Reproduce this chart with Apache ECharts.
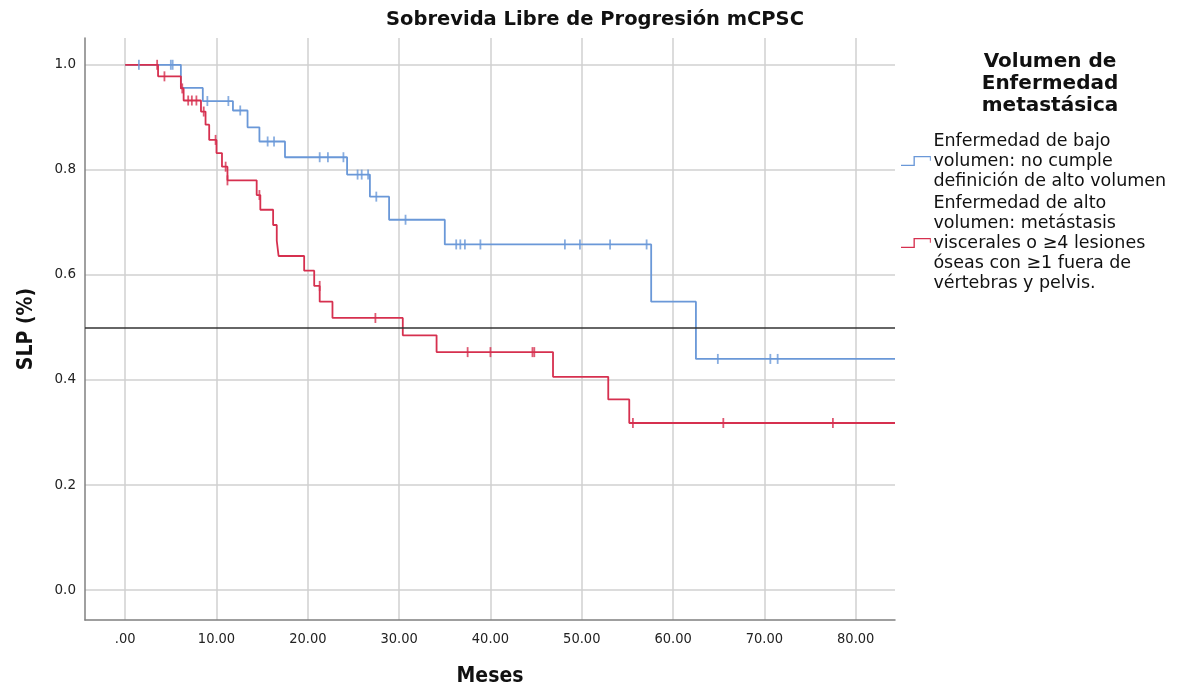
<!DOCTYPE html>
<html>
<head>
<meta charset="utf-8">
<script src="https://cdn.jsdelivr.net/npm/echarts@6/dist/echarts.min.js"></script>
<style>html,body{margin:0;padding:0;background:#fff;}#c{width:1182px;height:687px;}</style>
</head>
<body>
<div id="c"></div>
<script>
// ---- data ----
const xTicks = [0, 10, 20, 30, 40, 50, 60, 70, 80];
const yTicks = [0, 0.2, 0.4, 0.6, 0.8, 1.0];
const seriesNames = [
  'Enfermedad de bajo\nvolumen: no cumple\ndefinición de alto volumen',
  'Enfermedad de alto\nvolumen: metástasis\nviscerales o \u22654 lesiones\nóseas con \u22651 fuera de\nvértebras y pelvis.'
];
// low volume (blue) step curve
const blueTimes = [0, 6.1, 8.5, 11.8, 13.4, 14.7, 17.5, 24.3, 26.8, 28.9, 35.0, 57.6, 62.5, 84.3];
const blueSurv  = [1.0, 0.956, 0.931, 0.913, 0.881, 0.854, 0.824, 0.791, 0.749, 0.705, 0.658, 0.549, 0.44, 0.44];
const blueCensT = [1.5, 5.0, 5.2, 9.0, 11.3, 12.6, 15.6, 16.3, 21.3, 22.2, 23.9, 25.45, 25.9, 26.6, 27.5, 30.7, 36.25, 36.7, 37.2, 38.9, 48.15, 49.8, 53.1, 57.1, 64.9, 70.65, 71.45];
const blueCensS = [1.0, 1.0, 1.0, 0.931, 0.931, 0.913, 0.854, 0.854, 0.824, 0.824, 0.824, 0.791, 0.791, 0.791, 0.749, 0.705, 0.658, 0.658, 0.658, 0.658, 0.658, 0.658, 0.658, 0.658, 0.44, 0.44, 0.44];
// high volume (red) step curve
const redTimes = [0, 3.6, 6.1, 6.4, 8.3, 8.8, 9.2, 10.0, 10.6, 11.2, 14.4, 14.8, 16.2, 16.6, 16.8, 19.6, 20.7, 21.3, 22.7, 30.4, 34.1, 46.85, 52.9, 55.2, 84.3];
const redSurv  = [1.0, 0.978, 0.955, 0.932, 0.911, 0.886, 0.857, 0.832, 0.806, 0.78, 0.752, 0.724, 0.695, 0.665, 0.636, 0.608, 0.579, 0.549, 0.518, 0.485, 0.453, 0.406, 0.363, 0.318, 0.318];
const redCensT = [3.5, 4.3, 6.25, 6.9, 7.3, 7.8, 8.6, 9.9, 11.0, 11.2, 14.7, 21.3, 27.4, 37.5, 40.0, 44.6, 44.8, 55.6, 65.5, 77.5];
const redCensS = [1.0, 0.978, 0.955, 0.932, 0.932, 0.932, 0.911, 0.857, 0.806, 0.78, 0.752, 0.579, 0.518, 0.453, 0.453, 0.453, 0.453, 0.318, 0.318, 0.318];
const refLine = 0.5;

const BLUE = '#6a98d8';
const RED = '#d6304f';
const NARROW = "'DejaVu Sans Condensed', 'Liberation Sans', 'DejaVu Sans', sans-serif";
const zip = (a, b) => a.map((v, i) => [v, b[i]]);
const stepIcon = 'path://M0,9 L13,9 L13,0 L31,0 L31,5 L30,5 L30,1.4 L14.4,1.4 L14.4,10.4 L0,10.4 Z';

const chart = echarts.init(document.getElementById('c'));
chart.setOption({
  animation: false,
  backgroundColor: '#fff',
  title: [
    { text: 'Sobrevida Libre de Progresión mCPSC', left: 590, top: 5, textAlign: 'center',
      textStyle: { fontFamily: 'DejaVu Sans', fontWeight: 'bold', fontSize: 19.5, color: '#111' } },
    { text: 'Volumen de\nEnfermedad\nmetastásica', left: 1045, top: 46, textAlign: 'center',
      textStyle: { fontFamily: 'DejaVu Sans', fontWeight: 'bold', fontSize: 20, lineHeight: 22, color: '#111' } }
  ],
  legend: {
    data: seriesNames,
    orient: 'vertical',
    left: 896,
    top: 126,
    itemGap: 2,
    itemWidth: 33,
    itemHeight: 10,
    icon: stepIcon,
    textStyle: { fontFamily: 'DejaVu Sans', fontSize: 17.5, lineHeight: 20, color: '#111', padding: [0, 0, 0, -4] }
  },
  grid: { left: 85, right: 287, top: 38, bottom: 67, containLabel: false, outerBoundsMode: 'none' },
  xAxis: {
    type: 'value', min: -4.4, max: 84.3,
    name: 'Meses', nameLocation: 'middle', nameGap: 46,
    nameTextStyle: { fontFamily: NARROW, fontWeight: 'bold', fontSize: 21, color: '#111' },
    axisLine: { show: true, onZero: false, lineStyle: { color: '#808080', width: 1.5 } },
    axisTick: { show: false, customValues: xTicks },
    axisLabel: { customValues: xTicks, margin: 12,
      formatter: v => (v === 0 ? '.00' : v.toFixed(2)),
      fontFamily: NARROW, fontSize: 14.5, color: '#222' },
    splitLine: { show: true, lineStyle: { color: '#d0d0d0', width: 1.5 } }
  },
  yAxis: {
    type: 'value', min: -0.057, max: 1.051,
    name: 'SLP (%)', nameLocation: 'middle', nameGap: 48, nameRotate: 90,
    nameTextStyle: { fontFamily: NARROW, fontWeight: 'bold', fontSize: 21, color: '#111' },
    axisLine: { show: true, onZero: false, lineStyle: { color: '#808080', width: 1.5 } },
    axisTick: { show: false, customValues: yTicks },
    axisLabel: { customValues: yTicks, margin: 9,
      formatter: v => v.toFixed(1),
      fontFamily: 'DejaVu Sans', fontSize: 13.5, color: '#222' },
    splitLine: { show: true, lineStyle: { color: '#d0d0d0', width: 1.5 } }
  },
  series: [
    { name: seriesNames[0], type: 'line', step: 'end', data: zip(blueTimes, blueSurv),
      showSymbol: false, symbol: 'none', color: BLUE, lineStyle: { color: BLUE, width: 1.8 }, z: 3,
      markLine: { silent: true, symbol: 'none', label: { show: false },
        lineStyle: { color: '#333', width: 1.6, type: 'solid' }, data: [{ yAxis: refLine }] } },
    { name: seriesNames[1], type: 'line', step: 'end', data: zip(redTimes, redSurv),
      showSymbol: false, symbol: 'none', color: RED, lineStyle: { color: RED, width: 1.8 }, z: 4 },
    { name: 'censB', type: 'scatter', data: zip(blueCensT, blueCensS), symbol: 'rect',
      symbolSize: [1.8, 10], itemStyle: { color: BLUE }, z: 5, silent: true },
    { name: 'censR', type: 'scatter', data: zip(redCensT, redCensS), symbol: 'rect',
      symbolSize: [1.8, 10], itemStyle: { color: RED }, z: 6, silent: true }
  ]
});
</script>
</body>
</html>
